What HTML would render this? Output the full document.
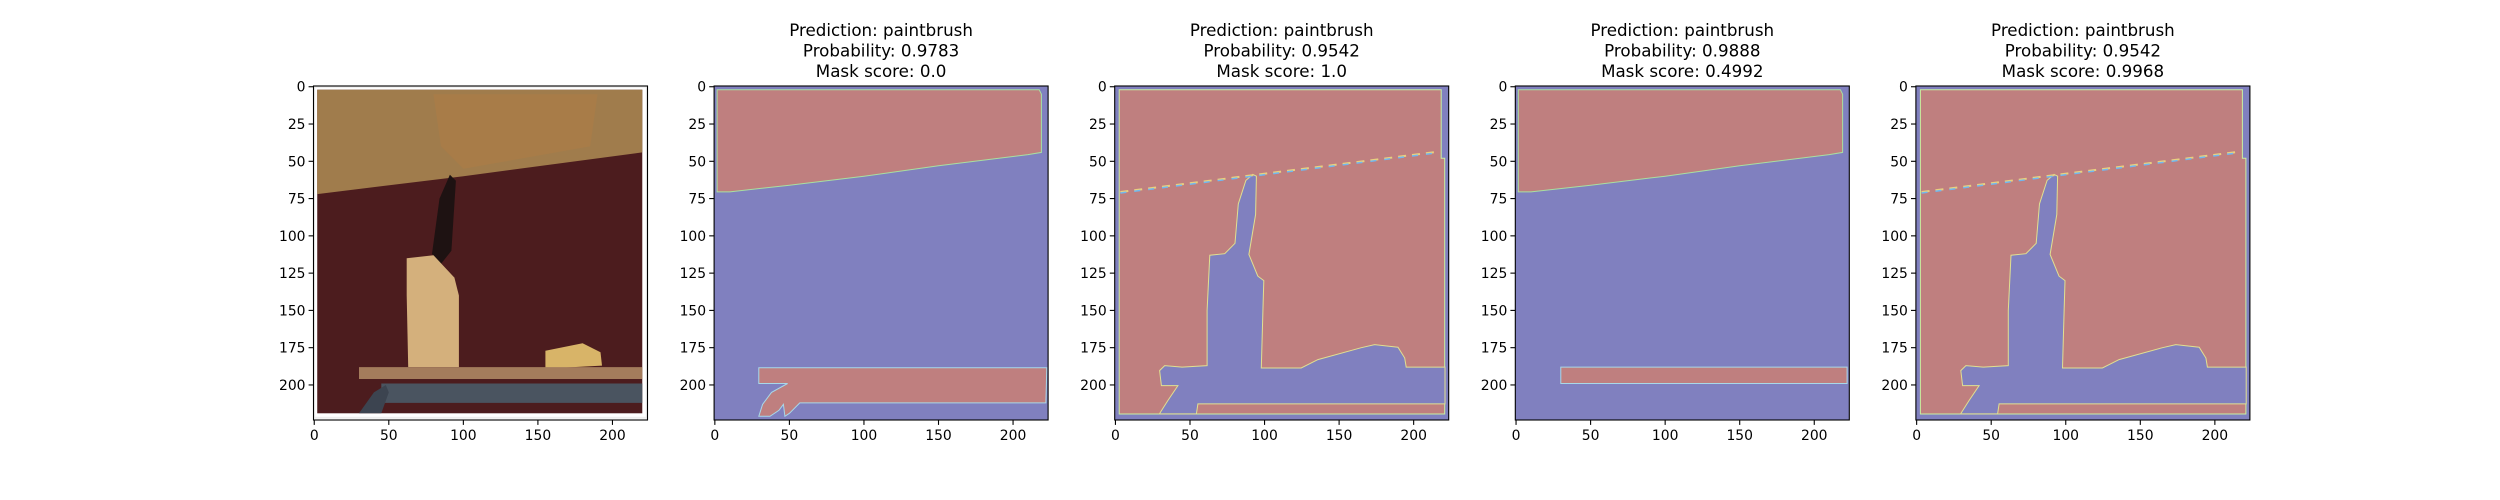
<!DOCTYPE html>
<html><head><meta charset="utf-8"><style>
html,body{margin:0;padding:0;background:#fff;}
svg{display:block;}
text{font-family:"DejaVu Sans","Liberation Sans",sans-serif;fill:#000;}
</style></head><body>
<svg id="fig" width="2500" height="500" viewBox="0 0 2500 500" xmlns="http://www.w3.org/2000/svg"></svg>
<script>
const xTicks=[0,50,100,150,200];
const yTicks=[0,25,50,75,100,125,150,175,200];
const titlesPred=["","paintbrush","paintbrush","paintbrush","paintbrush"];
const titlesProb=["","0.9783","0.9542","0.9888","0.9542"];
const titlesMask=["","0.0","1.0","0.4992","0.9968"];
// mask polygons in pixel (data) coordinates
const topRed=[[1.5,2],[217.5,2],[219,5],[219,44],[210,45.5],[150,53],[100,60],[50,66],[10,70.5],[1.5,70.5]];
const bottomRedP2=[[29.5,188.4],[222.6,188.4],[222,212],[57,212],[50,219],[47,221],[46,213],[43,217],[37,221],[29.5,221],[32,213],[38,205],[48.8,199],[29.5,199]];
const bottomRedP4=[[30,188],[222,188],[222,199],[30,199]];
const fullRed=[[2.5,2],[218.5,2],[218.5,48],[220.8,48],[220.8,219.5],[2.5,219.5]];
const brushBlue=[[92.2,58.8],[94.5,60],[94,85.7],[89.5,112.5],[95.5,127],[99.5,130],[98.9,150.6],[97.8,188.6],[124.6,188.6],[135.8,183],[164.9,175],[173.8,172.9],[189.5,174.7],[194,181.9],[195,188],[221,188],[221,212.7],[55.3,212.7],[54.3,219.4],[29.5,219.4],[35.1,210.5],[41.9,200.4],[30.8,200.4],[29.6,190.4],[33,187],[44.7,188],[61.5,187],[61.5,150],[63.3,113],[73.3,112],[80.2,105],[82.4,78.5],[87.5,62.8]];
const dashLine=[[3.3,70.6],[214.7,43.8]];

const svg=document.getElementById('fig');
const NS='http://www.w3.org/2000/svg';
const W=334,TOP=86,RED='#bf7f7f',BLUE='#8080bf';
function mk(tag,attrs,parent){const e=document.createElementNS(NS,tag);for(const k in attrs)e.setAttribute(k,attrs[k]);(parent||svg).appendChild(e);return e;}
function sx(L,v){return L+(v+0.5)*W/224;}
function sy(v){return TOP+(v+0.5)*W/224;}
function poly(g,L,pts,fill){const p=mk('polygon',{points:pts.map(q=>sx(L,q[0]).toFixed(1)+','+sy(q[1]).toFixed(1)).join(' '),fill:fill},g);return p;}

for(let i=0;i<5;i++){
  const L=313.5+400.6*i;
  const g=mk('g',{});
  
  
  if(i===0){
    mk('rect',{x:L,y:TOP,width:W,height:W,fill:'#fff'},g);
    mk('rect',{x:sx(L,2),y:sy(2),width:sx(L,220)-sx(L,2),height:sy(219)-sy(2),fill:'#4c1c1e'},g);
    poly(g,L,[[2,2],[220,2],[220,44],[100,60],[2,72]],'#a07c4c');
    poly(g,L,[[80,5],[190,5],[185,40],[100,55],[85,40]],'#a87c48');
    poly(g,L,[[91,59],[95,63],[92,110],[84,120],[79,112],[84,75]],'#1e1212');
    poly(g,L,[[62,115],[80,113],[94,128],[97,140],[97,188],[63,188],[62,140]],'#d4b07c');
    poly(g,L,[[155,177],[180,172],[192,178],[193,187],[155,189]],'#d8b468');
    poly(g,L,[[30,188],[220,188],[220,196],[30,196]],'#a47c5c');
    poly(g,L,[[45,199],[220,199],[220,212],[45,212]],'#4a5460');
    poly(g,L,[[30,219],[40,205],[48,200],[50,205],[45,219]],'#3c4450');
    mk('rect',{x:sx(L,0),y:sy(0),width:sx(L,223)-sx(L,0),height:sy(222)-sy(0),fill:'none',stroke:'#eee','stroke-width':2},g);
  } else {
    mk('rect',{x:L,y:TOP,width:W,height:W,fill:BLUE},g);
    if(i===1||i===3){
      poly(g,L,topRed,RED).setAttribute('stroke','#a8e0a0');
      poly(g,L,i===1?bottomRedP2:bottomRedP4,RED).setAttribute('stroke','#a8d8e8');
    } else {
      poly(g,L,fullRed,RED).setAttribute('stroke','#c8f0a0');
      poly(g,L,brushBlue,BLUE).setAttribute('stroke','#e0e090');
      mk('line',{x1:sx(L,dashLine[0][0]),y1:sy(dashLine[0][1]),x2:sx(L,dashLine[1][0]),y2:sy(dashLine[1][1]),stroke:'#e8d080','stroke-width':2,'stroke-dasharray':'8 6'},g);
      mk('line',{x1:sx(L,dashLine[0][0]),y1:sy(dashLine[0][1])+1,x2:sx(L,dashLine[1][0]),y2:sy(dashLine[1][1])+1,stroke:'#70b8f0','stroke-width':1.5,'stroke-dasharray':'6 8'},g);
    }
    const cx=L+W/2;
    const t1=mk('text',{x:cx,y:36,'font-size':'16.7','text-anchor':'middle'},g);t1.textContent='Prediction: '+titlesPred[i];
    
    const t2=mk('text',{x:cx,y:56.5,'font-size':'16.7','text-anchor':'middle'},g);t2.textContent='Probability: '+titlesProb[i];
    
    const t3=mk('text',{x:cx,y:77,'font-size':'16.7','text-anchor':'middle'},g);t3.textContent='Mask score: '+titlesMask[i];
    
  }
  mk('rect',{x:L,y:TOP,width:W,height:W,fill:'none',stroke:'#000','stroke-width':1.1},g);
  xTicks.forEach(v=>{
    const x=sx(L,v);
    mk('line',{x1:x,y1:TOP+W,x2:x,y2:TOP+W+4.9,stroke:'#000','stroke-width':1.1},g);
    const t=mk('text',{x:x,y:TOP+W+20,'font-size':'13.9','text-anchor':'middle'},g);t.textContent=v;
    
  });
  yTicks.forEach(v=>{
    const y=sy(v);
    mk('line',{x1:L,y1:y,x2:L-4.9,y2:y,stroke:'#000','stroke-width':1.1},g);
    const t=mk('text',{x:L-8,y:y+5,'font-size':'13.9','text-anchor':'end'},g);t.textContent=v;
    
  });
}
</script>
</body></html>
